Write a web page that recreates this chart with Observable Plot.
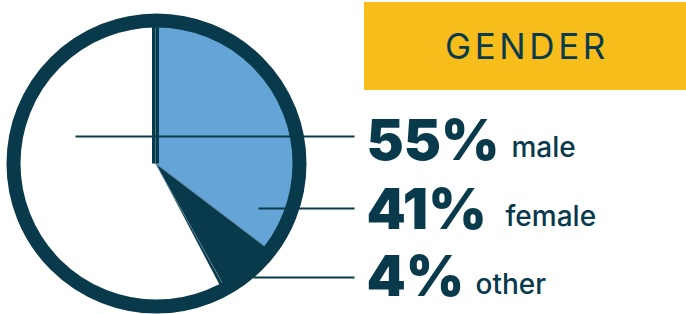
<!DOCTYPE html>
<html><head><meta charset="utf-8">
<script src="https://cdn.jsdelivr.net/npm/d3@7"></script>
<script src="https://cdn.jsdelivr.net/npm/@observablehq/plot@0.6"></script>
<style>
html,body{margin:0;padding:0;background:#fff;}
#wrap{position:relative;width:686px;height:314px;}
#title{position:absolute;left:364px;top:2px;width:322px;height:88px;background:#f7be1b;color:#0b3a4c;font:400 35px Inter, sans-serif;letter-spacing:3.6px;display:flex;align-items:center;justify-content:center;box-sizing:border-box;padding-left:4px;}
</style></head><body><div id="wrap"><div id="title">GENDER</div></div>
<script>
// ---- data ----
const categories = ["male", "female", "other"];
const percentLabels = [55, 41, 4];
// slice sizes as drawn in the picture (share of the circle, %)
const drawnShare = [57.6, 35.4, 7.0];
// clockwise drawing order starting at 12 o'clock
const sliceOrder = ["female", "other", "male"];
const sliceColors = {female: "#65a4d6", other: "#083a4b", male: "#ffffff"};

// ---- layout (pixels) ----
const dark = "#083a4b";
const cx = 155, cy = 163, ringCx = 156, ringR = 143, fillR = 140;
const rowBaseline = {male: 159, female: 228, other: 295};
const nameX = {male: 511, female: 505, other: 475};
const nameBaseline = {male: 156, female: 225, other: 293};
const leader = {male: {x1: 75, y: 136}, female: {x1: 258, y: 208}, other: {x1: 253, y: 277}};
const leaderEnd = 354;

const rows = categories.map((c, i) => ({cat: c, pct: percentLabels[i], share: drawnShare[i]}));

// build slice polygons from the drawn shares
const slices = [];
const bounds = [];
let acc = 0;
for (const c of sliceOrder) {
  const r = rows.find(d => d.cat === c);
  const a0 = acc / 100 * 360, a1 = (acc + r.share) / 100 * 360;
  acc += r.share;
  bounds.push({cat: c, a0, a1});
  slices.push({cat: c, x: cx, y: cy});
  const n = Math.max(2, Math.ceil(a1 - a0));
  for (let k = 0; k <= n; k++) {
    const a = (a0 + (a1 - a0) * k / n) * Math.PI / 180;
    slices.push({cat: c, x: ringCx + fillR * Math.sin(a), y: cy - fillR * Math.cos(a)});
  }
  slices.push({cat: c, x: cx, y: cy});
}
const bFemale = bounds.find(b => b.cat === "female");
const bOther = bounds.find(b => b.cat === "other");
const pt = (deg, r) => ({x: ringCx + r * Math.sin(deg * Math.PI / 180), y: cy - r * Math.cos(deg * Math.PI / 180)});
const seams = [
  {x1: cx, y1: cy, x2: pt(bFemale.a1, 138).x, y2: pt(bFemale.a1, 138).y},
  {x1: cx, y1: cy, x2: pt(bOther.a1 - 1.5, 138).x, y2: pt(bOther.a1 - 1.5, 138).y}
];

const chart = Plot.plot({
  width: 686, height: 314, margin: 0,
  x: {type: "identity", axis: null}, y: {type: "identity", axis: null},
  style: {background: "transparent"},
  marks: [
    Plot.line(slices, {x: "x", y: "y", z: "cat", fill: d => sliceColors[d.cat], stroke: d => sliceColors[d.cat], strokeWidth: 0.5, curve: "linear"}),
    Plot.link(seams, {x1: "x1", y1: "y1", x2: "x2", y2: "y2", stroke: "#6f97a8", strokeWidth: 0.8}),
    Plot.link([0], {x1: () => cx, y1: () => cy, x2: () => cx, y2: () => cy - ringR, stroke: dark, strokeWidth: 7}),
    Plot.link([0], {x1: () => cx, y1: () => cy, x2: () => cx, y2: () => cy - ringR, stroke: "#5d8596", strokeWidth: 0.7}),
    Plot.dot([0], {x: () => ringCx, y: () => cy, r: ringR, stroke: dark, strokeWidth: 14, fill: "none"}),
    Plot.link(rows, {x1: d => leader[d.cat].x1, x2: () => leaderEnd, y1: d => leader[d.cat].y, y2: d => leader[d.cat].y, stroke: dark, strokeWidth: 2}),
    Plot.text(rows, {x: () => 366, y: d => rowBaseline[d.cat], text: d => d.pct + "%", textAnchor: "start", lineAnchor: "bottom", fill: dark, fontSize: 56, fontWeight: 900, fontFamily: "Inter"}),
    Plot.text(rows, {x: d => nameX[d.cat], y: d => nameBaseline[d.cat], text: "cat", textAnchor: "start", lineAnchor: "bottom", fill: dark, fontSize: 28, fontWeight: 500, fontFamily: "Inter"})
  ]
});
chart.style.position = "absolute";
chart.style.left = "0";
chart.style.top = "0";
document.getElementById("wrap").prepend(chart);
</script>
</body></html>
